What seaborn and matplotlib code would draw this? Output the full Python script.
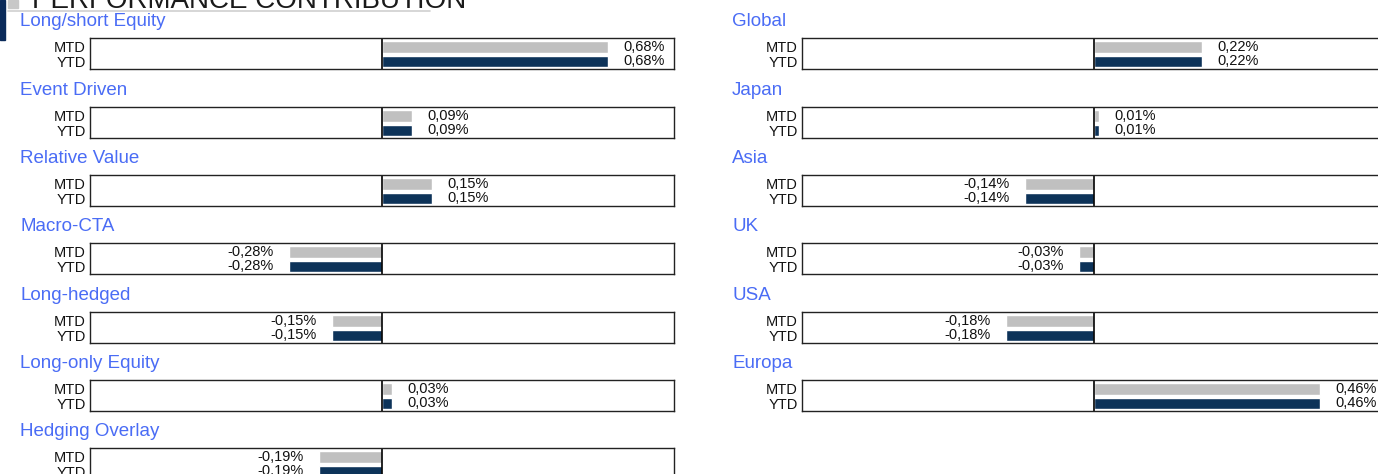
import numpy as np
import pandas as pd
import matplotlib
matplotlib.use("Agg")
import matplotlib.pyplot as plt
from matplotlib.patches import Rectangle
from matplotlib.lines import Line2D
import seaborn as sns

sns.set_style("white")
plt.rcParams['font.family'] = ['Liberation Sans', 'DejaVu Sans']

# データ
periods = ['MTD', 'YTD']

left_names = ['Long/short Equity', 'Event Driven', 'Relative Value', 'Macro-CTA',
              'Long-hedged', 'Long-only Equity', 'Hedging Overlay']
left_mtd = [0.68, 0.09, 0.15, -0.28, -0.15, 0.03, -0.19]
left_ytd = [0.68, 0.09, 0.15, -0.28, -0.15, 0.03, -0.19]

right_names = ['Global', 'Japan', 'Asia', 'UK', 'USA', 'Europa']
right_mtd = [0.22, 0.01, -0.14, -0.03, -0.18, 0.46]
right_ytd = [0.22, 0.01, -0.14, -0.03, -0.18, 0.46]

GREY = '#c0c0c0'
NAVY = '#003366'
BLUE = '#4a6cf5'

W, H = 1378, 474
fig = plt.figure(figsize=(W / 100, H / 100), dpi=100)


def px_axes(x0, y0, w, h):
    return fig.add_axes([x0 / W, 1 - (y0 + h) / H, w / W, h / H])


def fmt(v):
    return '{:.2f}%'.format(v).replace('.', ',')


def panel(x0, y0, name, mtd, ytd, lim):
    ax = px_axes(x0, y0, 584, 31)
    df = pd.DataFrame({'period': periods, 'value': [mtd, ytd]})
    sns.barplot(data=df, x='value', y='period', hue='period', palette=[GREY, NAVY],
                orient='h', width=0.8, legend=False, ax=ax)
    ax.set_xlim(-lim, lim)
    ax.set_ylim(1.52, -0.62)
    ax.axvline(0, color='black', lw=1.2)
    for c in ax.containers:
        ax.bar_label(c, labels=[fmt(b.get_width()) for b in c], padding=11,
                     fontsize=10.5, color='#111111')
    ax.set_xlabel('')
    ax.set_ylabel('')
    ax.set_xticks([])
    ax.tick_params(axis='y', length=0, pad=3, labelsize=10.5, labelcolor='#111111')
    for s in ax.spines.values():
        s.set_color('#222222')
        s.set_linewidth(1)
    fig.text((x0 - 70) / W, 1 - (y0 - 12) / H, name, fontsize=13.5, color=BLUE,
             va='baseline', ha='left')
    return ax


row_tops = [38, 107, 175, 243, 312, 380, 448]

for i, name in enumerate(left_names):
    panel(90, row_tops[i], name, left_mtd[i], left_ytd[i], 0.88)

for i, name in enumerate(right_names):
    panel(802, row_tops[i], name, right_mtd[i], right_ytd[i], 0.595)

# 見出し
fig.patches.append(Rectangle((0, 1 - 40 / H), 5 / W, 40 / H, transform=fig.transFigure,
                             color='#0a2a5a', zorder=5))
fig.patches.append(Rectangle((8 / W, 1 - 8 / H), 10 / W, 8 / H, transform=fig.transFigure,
                             color='#c8c8c8', zorder=5))
fig.lines.append(Line2D([8 / W, 430 / W], [1 - 11 / H, 1 - 11 / H], transform=fig.transFigure,
                        color='#d0d0d0', lw=1.2))
fig.text(32 / W, 1 - 8 / H, 'PERFORMANCE CONTRIBUTION', fontsize=20, color='#1a1a1a',
         va='baseline', ha='left')

fig.savefig('out.png', dpi=100)
